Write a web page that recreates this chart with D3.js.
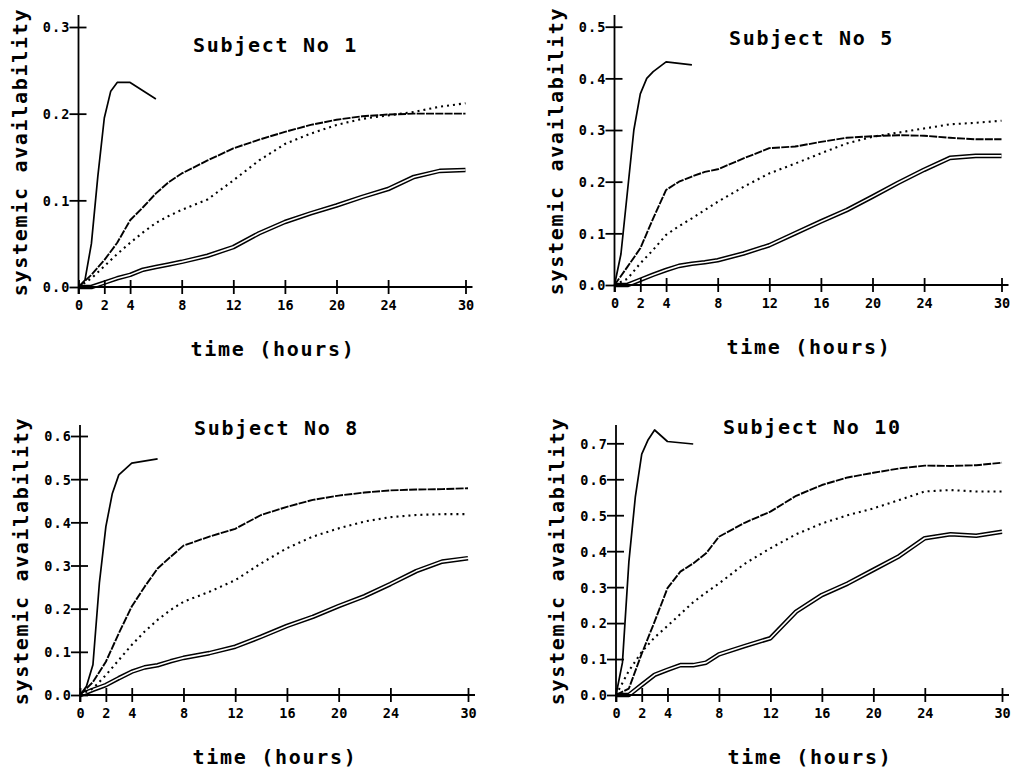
<!DOCTYPE html>
<html>
<head>
<meta charset="utf-8">
<script src="https://cdn.jsdelivr.net/npm/d3@7"></script>
<style>
  html, body { margin: 0; padding: 0; background: #fff; }
  svg { display: block; }
  text { font-family: "DejaVu Sans Mono", monospace; fill: #000; }
</style>
</head>
<body>
<svg id="chart" width="1011" height="769"></svg>
<script>
// ---------- data ----------
const subjects = ["Subject No 1", "Subject No 5", "Subject No 8", "Subject No 10"];
const xTicks = [0, 2, 4, 8, 12, 16, 20, 24, 30];
const tFast = [0, 0.5, 1, 1.5, 2, 2.5, 3, 4, 6];
const tSlow = [0, 1, 2, 3, 4, 5, 6, 7, 8, 10, 12, 14, 16, 18, 20, 22, 24, 26, 28, 30];

const yTicks1 = [0, 0.1, 0.2, 0.3];
const yTicks5 = [0, 0.1, 0.2, 0.3, 0.4, 0.5];
const yTicks8 = [0, 0.1, 0.2, 0.3, 0.4, 0.5, 0.6];
const yTicks10 = [0, 0.1, 0.2, 0.3, 0.4, 0.5, 0.6, 0.7];

// Subject 1
const solid1  = [0, 0.008, 0.05, 0.128, 0.195, 0.226, 0.236, 0.236, 0.217];
const dashed1 = [0, 0.014, 0.031, 0.051, 0.077, 0.092, 0.108, 0.121, 0.131, 0.146, 0.16, 0.17, 0.179, 0.187, 0.193, 0.197, 0.199, 0.2, 0.2, 0.2];
const dotted1 = [0, 0.01, 0.024, 0.038, 0.051, 0.063, 0.074, 0.082, 0.089, 0.101, 0.123, 0.146, 0.165, 0.177, 0.187, 0.194, 0.198, 0.202, 0.208, 0.212];
const double1 = [0, 0, 0.005, 0.01, 0.014, 0.02, 0.023, 0.026, 0.029, 0.036, 0.046, 0.062, 0.075, 0.085, 0.094, 0.104, 0.113, 0.127, 0.134, 0.135];

// Subject 5
const solid5  = [0, 0.06, 0.18, 0.3, 0.37, 0.4, 0.413, 0.432, 0.426];
const dashed5 = [0, 0.035, 0.071, 0.129, 0.184, 0.2, 0.21, 0.219, 0.224, 0.245, 0.265, 0.268, 0.277, 0.285, 0.288, 0.29, 0.289, 0.285, 0.282, 0.282];
const dotted5 = [0, 0.012, 0.042, 0.068, 0.097, 0.114, 0.129, 0.145, 0.161, 0.19, 0.216, 0.235, 0.255, 0.274, 0.287, 0.295, 0.303, 0.311, 0.314, 0.318];
const double5 = [0, 0, 0.01, 0.02, 0.029, 0.037, 0.041, 0.044, 0.048, 0.061, 0.077, 0.1, 0.123, 0.145, 0.171, 0.198, 0.223, 0.246, 0.25, 0.25];

// Subject 8
const solid8  = [0, 0.02, 0.07, 0.26, 0.39, 0.467, 0.51, 0.537, 0.547];
const dashed8 = [0, 0.03, 0.077, 0.143, 0.205, 0.251, 0.293, 0.32, 0.346, 0.367, 0.385, 0.417, 0.436, 0.452, 0.462, 0.469, 0.474, 0.476, 0.477, 0.479];
const dotted8 = [0, 0.015, 0.046, 0.081, 0.116, 0.147, 0.174, 0.197, 0.216, 0.239, 0.266, 0.305, 0.34, 0.367, 0.386, 0.402, 0.412, 0.417, 0.419, 0.419];
const double8 = [0, 0.012, 0.023, 0.039, 0.054, 0.064, 0.069, 0.078, 0.086, 0.097, 0.112, 0.135, 0.16, 0.181, 0.206, 0.229, 0.257, 0.287, 0.309, 0.317];

// Subject 10
const solid10  = [0, 0.09, 0.37, 0.55, 0.67, 0.71, 0.737, 0.705, 0.698];
const dashed10 = [0, 0.018, 0.115, 0.204, 0.297, 0.343, 0.366, 0.394, 0.44, 0.479, 0.51, 0.554, 0.584, 0.605, 0.618, 0.63, 0.638, 0.637, 0.639, 0.646];
const dotted10 = [0, 0.067, 0.12, 0.16, 0.192, 0.225, 0.258, 0.285, 0.31, 0.365, 0.408, 0.447, 0.477, 0.5, 0.519, 0.542, 0.566, 0.57, 0.566, 0.566];
const double10 = [0, 0, 0.028, 0.056, 0.07, 0.083, 0.083, 0.09, 0.113, 0.136, 0.158, 0.232, 0.278, 0.31, 0.348, 0.386, 0.436, 0.447, 0.443, 0.454];

// ---------- layout ----------
const layout = [
  { x0: 78.5, x1: 465.5, y0: 287, yTopPx: 27,    axisTop: 15,  titleX: 193, titleY: 52 },
  { x0: 614.5, x1: 1001.5, y0: 285, yTopPx: 26.7, axisTop: 15,  titleX: 729, titleY: 45 },
  { x0: 80,   x1: 468,   y0: 695, yTopPx: 436,   axisTop: 425, titleX: 194, titleY: 435 },
  { x0: 616,  x1: 1002,  y0: 695, yTopPx: 443.3, axisTop: 425, titleX: 723, titleY: 434 }
];

const panels = [
  { title: subjects[0], yTicks: yTicks1,  solid: solid1,  dashed: dashed1,  dotted: dotted1,  dbl: double1 },
  { title: subjects[1], yTicks: yTicks5,  solid: solid5,  dashed: dashed5,  dotted: dotted5,  dbl: double5 },
  { title: subjects[2], yTicks: yTicks8,  solid: solid8,  dashed: dashed8,  dotted: dotted8,  dbl: double8 },
  { title: subjects[3], yTicks: yTicks10, solid: solid10, dashed: dashed10, dotted: dotted10, dbl: double10 }
];

const svg = d3.select("#chart");
svg.append("rect").attr("width", 1011).attr("height", 769).attr("fill", "#fff");

const BIG = 20, BIG_LS = 1.7;
const SMALL = 13.5;

panels.forEach((p, i) => {
  const L = layout[i];
  const top = p.yTicks[p.yTicks.length - 1];
  const x = d3.scaleLinear().domain([0, 30]).range([L.x0, L.x1]);
  const y = d3.scaleLinear().domain([0, top]).range([L.y0, L.yTopPx]);
  const g = svg.append("g");

  const line = d3.line().x(d => x(d[0])).y(d => y(d[1]));
  const fastPts = tFast.map((t, k) => [t, p.solid[k]]);
  const dashPts = tSlow.map((t, k) => [t, p.dashed[k]]);
  const dotPts  = tSlow.map((t, k) => [t, p.dotted[k]]);
  const dblPts  = tSlow.map((t, k) => [t, p.dbl[k]]);

  // double line: black thick + white core
  g.append("path").datum(dblPts).attr("d", line)
    .attr("fill", "none").attr("stroke", "#000").attr("stroke-width", 4.6)
    .attr("stroke-linejoin", "round");
  g.append("path").datum(dblPts).attr("d", line)
    .attr("fill", "none").attr("stroke", "#fff").attr("stroke-width", 1.6)
    .attr("stroke-linejoin", "round");
  // dotted
  g.append("path").datum(dotPts).attr("d", line)
    .attr("fill", "none").attr("stroke", "#000").attr("stroke-width", 2.1)
    .attr("stroke-dasharray", "2,4");
  // dashed
  g.append("path").datum(dashPts).attr("d", line)
    .attr("fill", "none").attr("stroke", "#000").attr("stroke-width", 1.9)
    .attr("stroke-dasharray", "8,1.3").attr("stroke-linejoin", "round");
  // solid
  g.append("path").datum(fastPts).attr("d", line)
    .attr("fill", "none").attr("stroke", "#000").attr("stroke-width", 1.7)
    .attr("stroke-linejoin", "round");

  // ----- axes -----
  const yAxis = d3.axisLeft(y).tickValues(p.yTicks).tickFormat(d3.format(".1f"))
    .tickSizeInner(9).tickSizeOuter(0).tickPadding(0);
  const ya = g.append("g").attr("transform", `translate(${L.x0},0)`).call(yAxis);
  ya.select(".domain").remove();
  ya.selectAll(".tick line").attr("x1", 8).attr("stroke", "#000").attr("stroke-width", 1.8);
  ya.selectAll(".tick text")
    .attr("x", -9 + 1.2).attr("dy", "0.36em")
    .style("font-family", "'DejaVu Sans Mono', monospace")
    .style("font-size", SMALL + "px").style("font-weight", "bold")
    .style("letter-spacing", "1.2px").attr("fill", "#000");

  const xAxis = d3.axisBottom(x).tickValues(xTicks).tickFormat(d3.format("d"))
    .tickSizeInner(7).tickSizeOuter(0).tickPadding(0);
  const xa = g.append("g").attr("transform", `translate(0,${L.y0})`).call(xAxis);
  xa.select(".domain").remove();
  xa.selectAll(".tick line").attr("y1", -7).attr("stroke", "#000").attr("stroke-width", 1.8);
  xa.selectAll(".tick text")
    .attr("y", 23).attr("dy", null)
    .style("font-family", "'DejaVu Sans Mono', monospace")
    .style("font-size", SMALL + "px").style("font-weight", "bold")
    .attr("fill", "#000");

  // axis lines
  g.append("line").attr("x1", L.x0).attr("x2", L.x0)
    .attr("y1", L.y0 + 7).attr("y2", L.axisTop)
    .attr("stroke", "#000").attr("stroke-width", 1.8);
  g.append("line").attr("x1", L.x0).attr("x2", x(30) + 7)
    .attr("y1", L.y0).attr("y2", L.y0)
    .attr("stroke", "#000").attr("stroke-width", 1.8);

  // title
  g.append("text").attr("x", L.titleX).attr("y", L.titleY)
    .style("font-size", BIG + "px").style("font-weight", "bold")
    .style("letter-spacing", BIG_LS + "px")
    .text(p.title);

  // y label
  g.append("text")
    .attr("transform", `translate(${L.x0 - 52},${(L.axisTop + L.y0) / 2 + 1}) rotate(-90)`)
    .attr("text-anchor", "middle")
    .style("font-size", BIG + "px").style("font-weight", "bold")
    .style("letter-spacing", BIG_LS + "px")
    .text("systemic availability");

  // x label
  g.append("text")
    .attr("x", (L.x0 + L.x1) / 2 + 1).attr("y", L.y0 + 69)
    .attr("text-anchor", "middle")
    .style("font-size", BIG + "px").style("font-weight", "bold")
    .style("letter-spacing", BIG_LS + "px")
    .text("time (hours)");
});
</script>
</body>
</html>
